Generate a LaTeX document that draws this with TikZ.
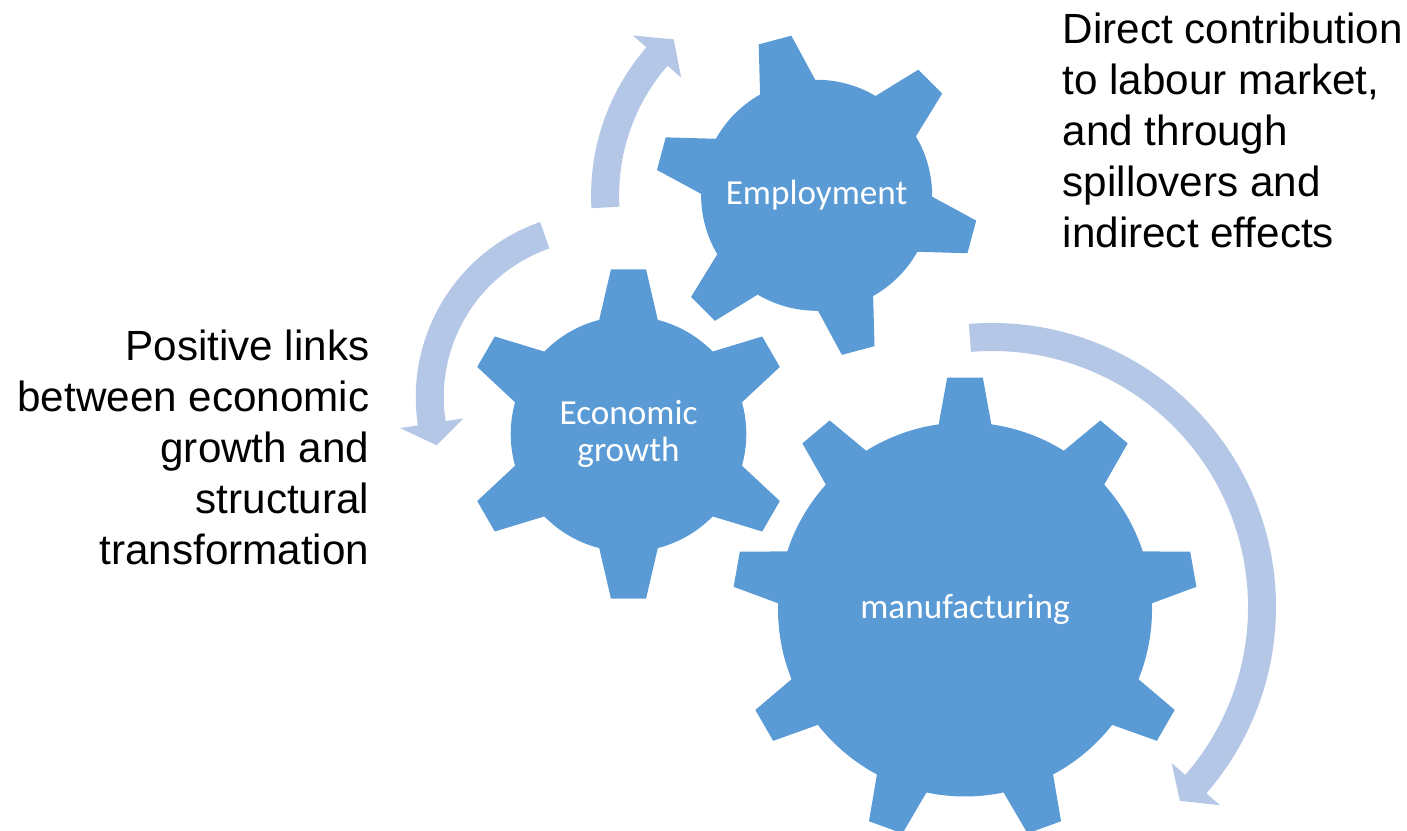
\documentclass[tikz,border=0pt]{standalone}
\usepackage{fontspec}
\setmainfont{Liberation Sans}
\newfontfamily\gearfont{Carlito}
\usetikzlibrary{positioning}
\definecolor{gearblue}{HTML}{5B9BD5}
\definecolor{loopblue}{HTML}{B4C7E7}

% gear: centre, teeth, first tooth angle, tip radius, body radius, tip half angle, root half angle
\newcommand{\gearshape}[7]{%
  \fill[gearblue, shift={(#1)}] ({#3-#7}:#5)
    \foreach \k [evaluate=\k as \a using {#3+(\k-1)*360/#2},
                 evaluate=\k as \b using {#3+\k*360/#2}] in {1,...,#2} {
      -- ({\a-#6}:#4) -- ({\a+#6}:#4) -- ({\a+#7}:#5)
      arc[start angle=\a+#7, end angle=\b-#7, radius=#5]
    } -- cycle;}

% curved arrow: centre, mid radius, tail angle, head angle, tip angle
\newcommand{\cyclearrow}[5]{%
  \fill[loopblue, shift={(#1)}]
    ({#3}:{#2+14}) arc[start angle=#3, end angle=#4, radius=#2+14]
    -- ({#4}:{#2+32}) -- ({#5}:{#2}) -- ({#4}:{#2-32}) -- ({#4}:{#2-14})
    arc[start angle=#4, end angle=#3, radius=#2-14] -- cycle;}

\begin{document}
\begin{tikzpicture}[
  x=0.01cm, y=0.01cm,
  gearlabel/.style={text=white, font=\gearfont\fontsize{10}{10.5}\selectfont, align=center},
  note/.style={font=\fontsize{12}{14.5}\selectfont, inner sep=0pt}
]
  \useasboundingbox (0,0) rectangle (1407,831);

  \coordinate (emplC) at (816.6,635.7);
  \coordinate (econC) at (628.5,397);
  \coordinate (manuC) at (965,221.5);

  % arrows round the gears
  \cyclearrow{emplC}{211.5}{183.3}{139}{132.5}
  \cyclearrow{601.5,433.7}{171.75}{109.3}{188.7}{196.2}
  \cyclearrow{992,224}{270}{94.7}{-41}{-45.9}

  % gears
  \gearshape{emplC}{6}{105}{161.6}{115.5}{6}{14.3}
  \gearshape{econC}{6}{90}{165.5}{117.8}{6.1}{14.4}
  \gearshape{manuC}{9}{90}{232.5}{187}{4.4}{8.1}

  \node[gearlabel] (empl) at (emplC) {Employment};
  \node[gearlabel] (econ) at (econC) {Economic\\growth};
  \node[gearlabel] (manu) at (manuC) {manufacturing};

  \node[note, align=left, anchor=north west] (direct) at (1062,819)
    {Direct contribution\\to labour market,\\and through\\spillovers and\\indirect effects};
  \node[note, align=right, anchor=north east] (links) at (370,502)
    {Positive links\\between economic\\growth and\\structural\\transformation};
\end{tikzpicture}
\end{document}
